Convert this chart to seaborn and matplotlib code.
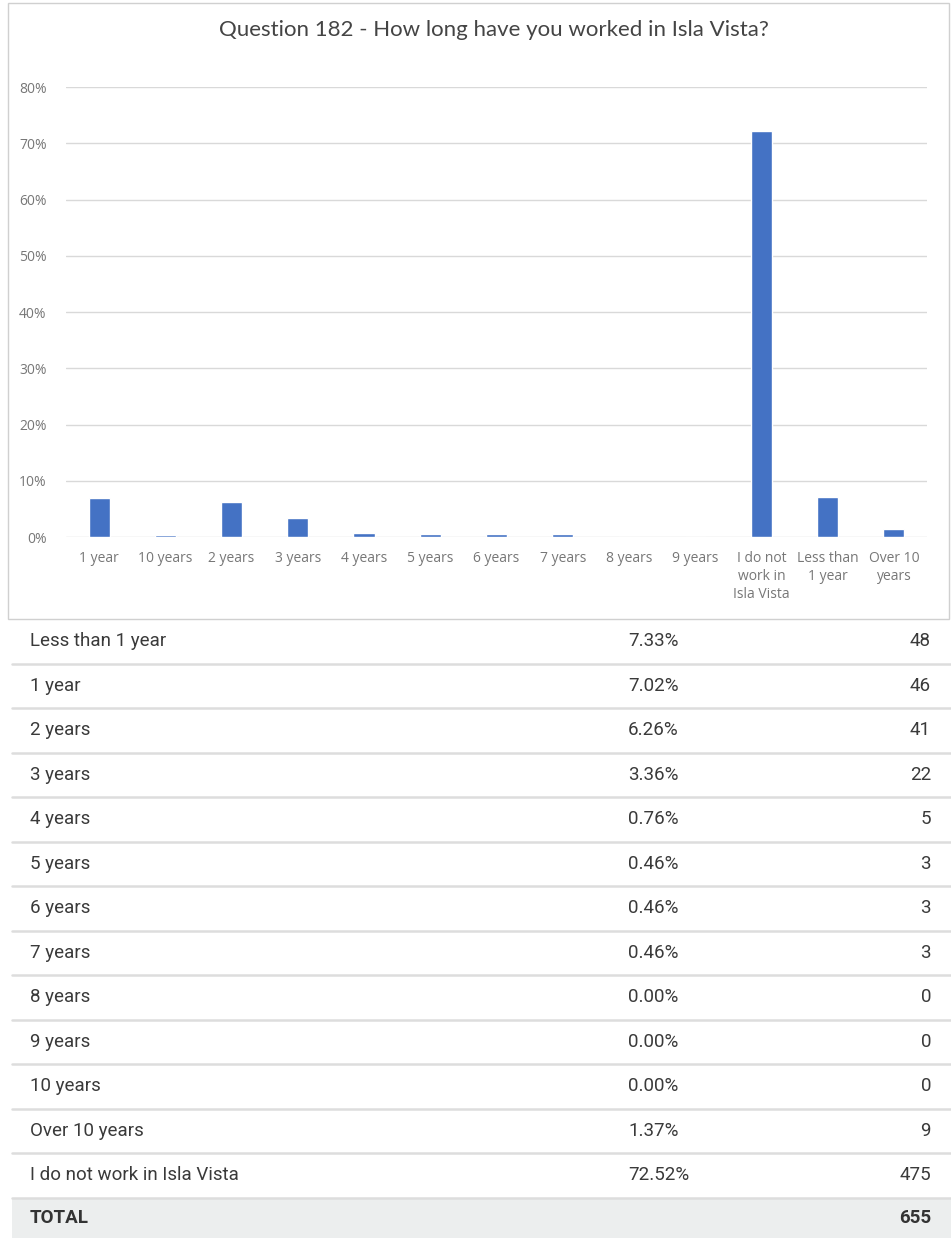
import matplotlib
matplotlib.use("Agg")
import matplotlib.pyplot as plt
import seaborn as sns
import pandas as pd

# bar chart values (in %)
chart_labels = ["1 year", "10 years", "2 years", "3 years", "4 years", "5 years",
                "6 years", "7 years", "8 years", "9 years",
                "I do not\nwork in\nIsla Vista", "Less than\n1 year", "Over 10\nyears"]
chart_values = [7.02, 0.3, 6.26, 3.36, 0.76, 0.46, 0.46, 0.46, 0.0, 0.0, 72.2, 7.2, 1.37]

# table below the chart
table_labels = ["Less than 1 year", "1 year", "2 years", "3 years", "4 years", "5 years",
                "6 years", "7 years", "8 years", "9 years", "10 years", "Over 10 years",
                "I do not work in Isla Vista"]
table_pcts = [7.33, 7.02, 6.26, 3.36, 0.76, 0.46, 0.46, 0.46, 0.00, 0.00, 0.00, 1.37, 72.52]
table_counts = [48, 46, 41, 22, 5, 3, 3, 3, 0, 0, 0, 9, 475]
total_count = 655

W, H = 951, 1238
sns.set_theme(style="white")
plt.rcParams['font.family'] = ['Open Sans', 'DejaVu Sans']

fig = plt.figure(figsize=(W / 100, H / 100), dpi=100)


def fy(py):
    return 1 - py / H


def fx(px):
    return px / W


# panel border around the chart
fig.add_artist(plt.Rectangle((fx(8), fy(619)), fx(941), 616 / H, transform=fig.transFigure,
                             fill=False, edgecolor="#d0d0d0", linewidth=1))

fig.text(fx(494), fy(30), "Question 182 - How long have you worked in Isla Vista?",
         ha="center", va="center", fontsize=16, color="#444444", family="Lato")

ax = fig.add_axes([fx(66), fy(537), fx(927 - 66), (537 - 87) / H])
df = pd.DataFrame({"cat": chart_labels, "val": chart_values})
sns.barplot(data=df, x="cat", y="val", order=chart_labels, color="#4472c4",
            saturation=1, width=0.32, ax=ax)
ax.set_ylim(0, 80)
ax.set_xlim(-0.5, len(chart_labels) - 0.5)
ax.set_yticks(range(0, 81, 10))
ax.set_yticklabels([f"{v}%" for v in range(0, 81, 10)])
ax.yaxis.grid(True, color="#d9d9d9", linewidth=1)
ax.set_axisbelow(True)
for s in ax.spines.values():
    s.set_visible(False)
ax.set_xlabel("")
ax.set_ylabel("")
ax.tick_params(axis="y", length=0, pad=14, labelsize=10, labelcolor="#777777")
ax.tick_params(axis="x", length=0, pad=10, labelsize=10, labelcolor="#777777")
for t in ax.get_xticklabels():
    t.set_linespacing(1.3)

# table
row_h = 44.5
top = 619
fs = 13.5
for i, (lab, p, c) in enumerate(zip(table_labels, table_pcts, table_counts)):
    yc = top + row_h * (i + 0.5)
    fig.text(fx(30), fy(yc), lab, ha="left", va="center", fontsize=fs, color="#3a3a3a",
             family="Roboto")
    fig.text(fx(628), fy(yc), f"{p:.2f}%", ha="left", va="center", fontsize=fs,
             color="#3a3a3a", family="Roboto")
    fig.text(fx(931), fy(yc), str(c), ha="right", va="center", fontsize=fs,
             color="#3a3a3a", family="Roboto")
    ysep = top + row_h * (i + 1)
    fig.add_artist(plt.Line2D([fx(12), fx(951)], [fy(ysep), fy(ysep)],
                              transform=fig.transFigure, color="#dddddd", linewidth=1.8))

ytot = top + row_h * len(table_labels)
fig.add_artist(plt.Rectangle((fx(12), 0), fx(939), fy(ytot + 1), transform=fig.transFigure,
                             facecolor="#eceeee", edgecolor="none"))
fig.text(fx(30), fy((ytot + H) / 2), "TOTAL", ha="left", va="center", fontsize=fs,
         color="#333333", family="Roboto", weight="bold")
fig.text(fx(931), fy((ytot + H) / 2), str(total_count), ha="right", va="center", fontsize=fs,
         color="#333333", family="Roboto", weight="bold")

fig.savefig("out.png", dpi=100, facecolor="white")
